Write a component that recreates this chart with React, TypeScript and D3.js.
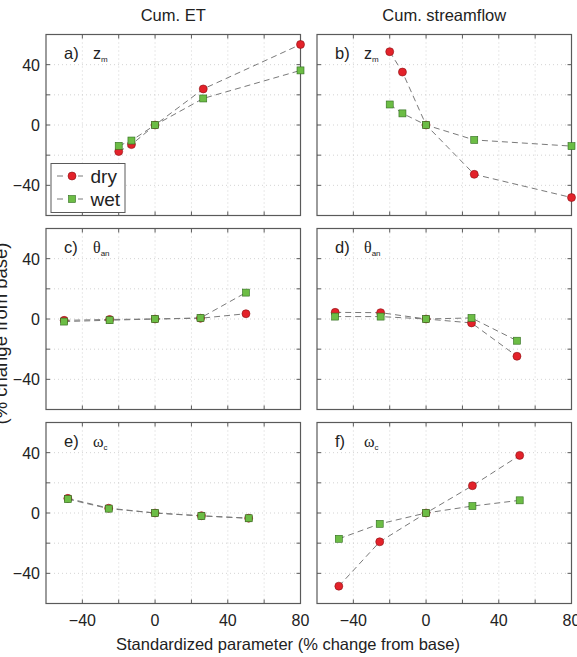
import { useEffect, useRef } from 'react';
import * as d3 from 'd3';

// x positions (standardized parameter, % change from base)
const xZm = [-20, -13, 0, 26.5, 80];
const xTheta = [-50, -25, 0, 25, 50];
const xOmega = [-48, -25.5, 0, 25.5, 51.5];

// Cum. ET (% change from base)
const zmDryET = [-17.6, -13, 0, 23.9, 53.4];
const zmWetET = [-13.8, -10.3, 0, 17.6, 36.2];
const thetaDryET = [-0.9, -0.3, 0, 0.5, 3.5];
const thetaWetET = [-1.7, -0.8, 0, 0.7, 17.5];
const omegaDryET = [9.7, 3.2, 0, -1.8, -3.4];
const omegaWetET = [9.2, 2.9, 0, -2.0, -3.5];

// Cum. streamflow (% change from base)
const zmDryQ = [48.6, 35.1, 0, -32.7, -48.1];
const zmWetQ = [13.6, 7.7, 0, -9.9, -14];
const thetaDryQ = [4.4, 4.2, 0, -2.6, -24.7];
const thetaWetQ = [1.6, 1.6, 0, 0.7, -14.4];
const omegaDryQ = [-48.5, -19.1, 0, 18.1, 38.2];
const omegaWetQ = [-17.1, -7.2, 0, 4.6, 8.4];

const columnTitles = ['Cum. ET', 'Cum. streamflow'];
const xTickLabels = [-40, 0, 40, 80];
const yTickLabels = [-40, 0, 40];
const gridX = [-40, -20, 0, 20, 40, 60];
const gridY = [-40, -20, 0, 20, 40];

interface Panel {
    letter: string;
    sym: string;
    sub: string;
    xs: number[];
    dry: number[];
    wet: number[];
    col: number;
    row: number;
}

const panels: Panel[] = [
    { letter: 'a)', sym: 'z', sub: 'm', xs: xZm, dry: zmDryET, wet: zmWetET, col: 0, row: 0 },
    { letter: 'b)', sym: 'z', sub: 'm', xs: xZm, dry: zmDryQ, wet: zmWetQ, col: 1, row: 0 },
    { letter: 'c)', sym: 'θ', sub: 'an', xs: xTheta, dry: thetaDryET, wet: thetaWetET, col: 0, row: 1 },
    { letter: 'd)', sym: 'θ', sub: 'an', xs: xTheta, dry: thetaDryQ, wet: thetaWetQ, col: 1, row: 1 },
    { letter: 'e)', sym: 'ω', sub: 'c', xs: xOmega, dry: omegaDryET, wet: omegaWetET, col: 0, row: 2 },
    { letter: 'f)', sym: 'ω', sub: 'c', xs: xOmega, dry: omegaDryQ, wet: omegaWetQ, col: 1, row: 2 },
];

const FONT = '"Liberation Sans", Arial, sans-serif';
const SERIF = '"Liberation Serif", "Times New Roman", serif';
const RED = '#e3222a';
const RED_EDGE = '#8a1014';
const GREEN = '#6cbd45';
const GREEN_EDGE = '#2f6a1e';
const LINE = '#7a7a7a';
const BOX = '#5a5a5a';
const TXT = '#222';

const fmt = (d: number) => (d < 0 ? '\u2212' + Math.abs(d) : String(d));

const App = () => {
    const svgRef = useRef<SVGSVGElement>(null);

    useEffect(() => {
        const root = d3.select(svgRef.current);
        root.selectAll('*').remove();

        const colLeft = [46, 317];
        const rowTop = [34.5, 228.5, 422.5];
        const pw = 254.5;
        const ph = 181;

        root.append('rect').attr('width', 577).attr('height', 657).attr('fill', '#fff');

        columnTitles.forEach((t, i) => {
            root.append('text')
                .attr('x', colLeft[i] + pw / 2)
                .attr('y', 21)
                .attr('text-anchor', 'middle')
                .style('font-family', FONT)
                .style('font-size', '16.5px')
                .attr('fill', TXT)
                .text(t);
        });

        panels.forEach((p) => {
            const x0 = colLeft[p.col];
            const y0 = rowTop[p.row];
            const x = d3.scaleLinear().domain([-60, 80]).range([0, pw]);
            const y = d3.scaleLinear().domain([-60, 60]).range([ph, 0]);

            const g = root.append('g').attr('transform', `translate(${x0},${y0})`);

            // dotted grid
            g.selectAll('line.gx').data(gridX).enter().append('line')
                .attr('x1', (d) => x(d)).attr('x2', (d) => x(d))
                .attr('y1', 0).attr('y2', ph)
                .attr('stroke', '#c8c8c8').attr('stroke-width', 0.8)
                .attr('stroke-dasharray', '1,3');
            g.selectAll('line.gy').data(gridY).enter().append('line')
                .attr('y1', (d) => y(d)).attr('y2', (d) => y(d))
                .attr('x1', 0).attr('x2', pw)
                .attr('stroke', '#c8c8c8').attr('stroke-width', 0.8)
                .attr('stroke-dasharray', '1,3');

            // inward ticks on all sides
            const tl = 4;
            gridX.forEach((d) => {
                g.append('line').attr('x1', x(d)).attr('x2', x(d)).attr('y1', ph).attr('y2', ph - tl).attr('stroke', BOX);
                g.append('line').attr('x1', x(d)).attr('x2', x(d)).attr('y1', 0).attr('y2', tl).attr('stroke', BOX);
            });
            gridY.forEach((d) => {
                g.append('line').attr('y1', y(d)).attr('y2', y(d)).attr('x1', 0).attr('x2', tl).attr('stroke', BOX);
                g.append('line').attr('y1', y(d)).attr('y2', y(d)).attr('x1', pw).attr('x2', pw - tl).attr('stroke', BOX);
            });

            g.append('rect').attr('width', pw).attr('height', ph)
                .attr('fill', 'none').attr('stroke', BOX).attr('stroke-width', 1.2);

            if (p.col === 0) {
                g.selectAll('text.yt').data(yTickLabels).enter().append('text')
                    .attr('x', -6).attr('y', (d) => y(d) + 6)
                    .attr('text-anchor', 'end')
                    .style('font-family', FONT).style('font-size', '16px')
                    .attr('fill', TXT)
                    .text(fmt);
            }
            if (p.row === 2) {
                g.selectAll('text.xt').data(xTickLabels).enter().append('text')
                    .attr('x', (d) => x(d)).attr('y', ph + 22)
                    .attr('text-anchor', 'middle')
                    .style('font-family', FONT).style('font-size', '16px')
                    .attr('fill', TXT)
                    .text(fmt);
            }

            // panel label
            g.append('text').attr('x', 18).attr('y', 24)
                .style('font-family', FONT).style('font-size', '16.5px').attr('fill', TXT)
                .text(p.letter);
            const lab = g.append('text').attr('x', 47).attr('y', 24)
                .style('font-family', p.sym === 'z' ? FONT : SERIF)
                .style('font-size', '16px').attr('fill', TXT);
            lab.append('tspan').text(p.sym);
            lab.append('tspan').attr('dy', 3).style('font-size', '8px')
                .style('font-family', FONT).text(p.sub);

            const series = [
                { vals: p.dry, kind: 'dry' },
                { vals: p.wet, kind: 'wet' },
            ];
            const line = d3.line<number>().x((_, i) => x(p.xs[i])).y((d) => y(d));
            series.forEach((s) => {
                g.append('path').attr('d', line(s.vals) as string)
                    .attr('fill', 'none').attr('stroke', LINE).attr('stroke-width', 1)
                    .attr('stroke-dasharray', '6,4');
            });
            series.forEach((s) => {
                s.vals.forEach((v, i) => {
                    if (s.kind === 'dry') {
                        g.append('circle').attr('cx', x(p.xs[i])).attr('cy', y(v)).attr('r', 4)
                            .attr('fill', RED).attr('stroke', RED_EDGE).attr('stroke-width', 0.6);
                    } else {
                        g.append('rect').attr('x', x(p.xs[i]) - 3.5).attr('y', y(v) - 3.5)
                            .attr('width', 7).attr('height', 7)
                            .attr('fill', GREEN).attr('stroke', GREEN_EDGE).attr('stroke-width', 0.6);
                    }
                });
            });

            // legend in panel a
            if (p.col === 0 && p.row === 0) {
                const lg = g.append('g').attr('transform', 'translate(5,129)');
                lg.append('rect').attr('width', 74).attr('height', 49)
                    .attr('fill', '#fff').attr('stroke', BOX).attr('stroke-width', 1);
                [{ label: 'dry', yy: 12.5 }, { label: 'wet', yy: 35.5 }].forEach((it) => {
                    lg.append('line').attr('x1', 6).attr('x2', 36).attr('y1', it.yy).attr('y2', it.yy)
                        .attr('stroke', LINE).attr('stroke-dasharray', '6,4');
                    lg.append('rect').attr('x', 15).attr('y', it.yy - 5).attr('width', 12).attr('height', 10).attr('fill', '#fff');
                    if (it.label === 'dry') {
                        lg.append('circle').attr('cx', 21).attr('cy', it.yy).attr('r', 4)
                            .attr('fill', RED).attr('stroke', RED_EDGE).attr('stroke-width', 0.6);
                    } else {
                        lg.append('rect').attr('x', 17.5).attr('y', it.yy - 3.5).attr('width', 7).attr('height', 7)
                            .attr('fill', GREEN).attr('stroke', GREEN_EDGE).attr('stroke-width', 0.6);
                    }
                    lg.append('text').attr('x', 39.5).attr('y', it.yy + 6.5)
                        .style('font-family', FONT).style('font-size', '19px').attr('fill', TXT)
                        .text(it.label);
                });
            }
        });

        root.append('text')
            .attr('x', 288).attr('y', 650)
            .attr('text-anchor', 'middle')
            .style('font-family', FONT).style('font-size', '16.5px').attr('fill', TXT)
            .text('Standardized parameter (% change from base)');

        root.append('text')
            .attr('transform', 'translate(7,333.5) rotate(-90)')
            .attr('text-anchor', 'middle')
            .style('font-family', FONT).style('font-size', '18.5px').attr('fill', TXT)
            .text('(% change from base)');
    }, []);

    return (
        <svg ref={svgRef} width={577} height={657}
            style={{ position: 'absolute', left: 0, top: 0, display: 'block' }} />
    );
};

export default App;
